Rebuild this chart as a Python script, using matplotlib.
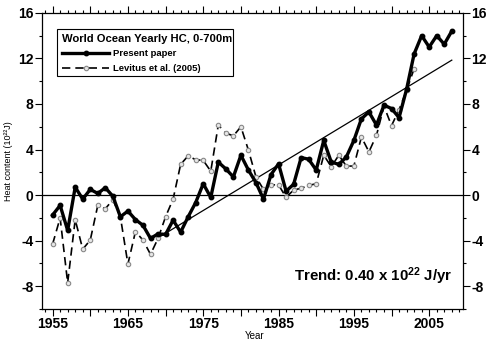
import numpy as np
import matplotlib.pyplot as plt
from matplotlib.patches import Rectangle
from matplotlib.ticker import FixedLocator, MultipleLocator

plt.rcParams['font.family'] = ['Liberation Sans', 'DejaVu Sans']
plt.rcParams['font.weight'] = 'bold'
plt.rcParams['mathtext.fontset'] = 'custom'
plt.rcParams['mathtext.rm'] = 'Liberation Sans:bold'
plt.rcParams['mathtext.bf'] = 'Liberation Sans:bold'
plt.rcParams['mathtext.default'] = 'bf'

# present paper, 1955-2008 (10^22 J)
years_new = np.arange(1955, 2009)
hc_new = [-1.75, -0.9, -3.1, 0.7, -0.35, 0.5, 0.15, 0.65, -0.1, -1.9,
          -1.4, -2.15, -2.65, -3.8, -3.4, -3.45, -2.2, -3.25, -1.9, -0.65,
          1.0, -0.2, 2.9, 2.3, 1.6, 3.5, 2.2, 1.1, -0.35, 1.8,
          2.75, 0.35, 0.95, 3.3, 3.15, 2.2, 4.8, 2.9, 2.7, 3.35,
          4.8, 6.7, 7.3, 6.15, 7.9, 7.6, 6.8, 9.3, 12.4, 14.0,
          13.0, 14.0, 13.25, 14.4]

# Levitus et al. (2005), 1955-2003
years_lev = np.arange(1955, 2004)
hc_lev = [-4.3, -2.0, -7.7, -2.15, -4.75, -3.95, -0.9, -1.2, -0.4, -1.9,
          -6.05, -3.2, -3.95, -5.2, -3.8, -1.9, -0.35, 2.7, 3.45, 3.1,
          3.05, 2.1, 6.15, 5.45, 5.2, 6.0, 3.95, 1.6, 0.5, 0.9,
          0.9, -0.2, 0.45, 0.6, 0.85, 1.0, 3.5, 2.5, 3.5, 2.55,
          2.55, 5.1, 3.8, 5.25, 7.8, 6.1, 7.5, 9.2, 11.1]

# linear trend 1969-2008
trend_years = [1969, 2008]
trend_vals = [-3.75, 11.85]

fig = plt.figure(figsize=(4.89, 3.48), dpi=100)
ax = fig.add_axes([0.086, 0.112, 0.861, 0.851])

ax.axhline(0, color='black', lw=0.9)
ax.plot(trend_years, trend_vals, color='black', lw=0.9)
ax.plot(years_lev, hc_lev, color='black', lw=1.2, ls=(0, (5, 3)),
        marker='o', ms=3.2, mfc='#e6e6e6', mec='#888888', mew=0.8,
        label='Levitus et al. (2005)')
ax.plot(years_new, hc_new, color='black', lw=2.4, marker='o', ms=3.2,
        mfc='black', mec='black', label='Present paper')

ax.set_xlim(1953.6, 2009.5)
ax.set_ylim(-10, 16)

ax.xaxis.set_major_locator(FixedLocator(np.arange(1955, 2010, 5)))
ax.set_xticklabels([str(y) if (y - 1955) % 10 == 0 else ''
                    for y in range(1955, 2010, 5)])
ax.xaxis.set_minor_locator(MultipleLocator(1))
ax.set_yticks(np.arange(-8, 17, 4))
ax.set_yticklabels([str(v) for v in np.arange(-8, 17, 4)])
ax.yaxis.set_minor_locator(MultipleLocator(2))

ax.tick_params(which='both', direction='out', top=True, right=True,
               labelright=True, width=0.8)
ax.tick_params(which='major', length=5, labelsize=10, pad=1)
ax.tick_params(which='minor', length=2.5)
for s in ax.spines.values():
    s.set_linewidth(0.9)

ax.set_xlabel('Year', fontsize=7)
ax.xaxis.set_label_coords(0.505, -0.075)
ax.set_ylabel('Heat content (10\u00b2\u00b2J)', fontsize=6.5)
ax.yaxis.set_label_coords(-0.068, 0.5)

# legend box drawn separately
ax.add_patch(Rectangle((0.036, 0.787), 0.418, 0.159, transform=ax.transAxes,
                       fill=True, facecolor='white', edgecolor='black',
                       lw=0.8, zorder=4))
handles, labels = ax.get_legend_handles_labels()
leg = ax.legend(handles[::-1], labels[::-1], loc='upper left',
                bbox_to_anchor=(0.036, 0.946), borderaxespad=0,
                title='World Ocean Yearly HC, 0-700m', alignment='left',
                fontsize=6.8, title_fontsize=8.1, frameon=False,
                handlelength=5.0, borderpad=0.5,
                labelspacing=0.6, handletextpad=0.4)
leg.set_zorder(5)
leg.get_title().set_fontweight('bold')

ax.text(0.975, 0.11, 'Trend: 0.40 x 10$^{22}$ J/yr', transform=ax.transAxes,
        ha='right', va='center', fontsize=10.8, fontweight='bold')

fig.savefig('out.png', dpi=100)
